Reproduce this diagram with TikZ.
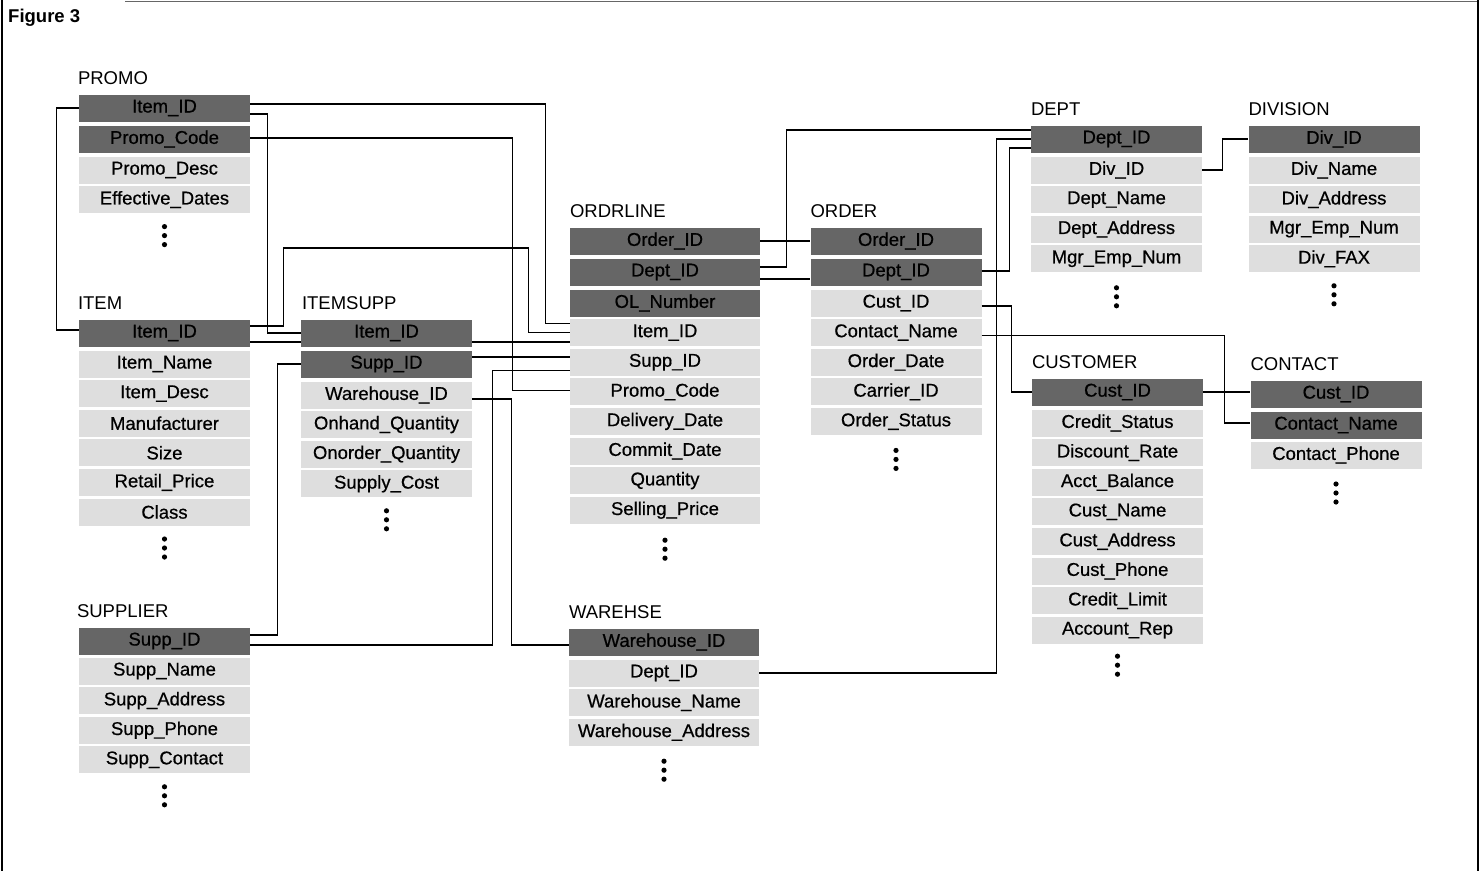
\documentclass[tikz,border=0pt]{standalone}
\usepackage{fontspec}
\setmainfont{Liberation Sans}
\newfontfamily\fieldfont[FakeBold=0.6]{Liberation Sans}
\usetikzlibrary{positioning}

\tikzset{
  field/.style={rectangle, fill=black!13, minimum width=171pt, minimum height=27pt, inner sep=0pt, font=\fieldfont\fontsize{18.5}{20}\selectfont},
  keyfield/.style={field, fill=black!60},
  tabtitle/.style={anchor=base west, inner sep=0pt, font=\fontsize{18.5}{20}\selectfont},
  moredots/.style={minimum width=6pt, minimum height=24pt, inner sep=0pt,
    path picture={\foreach \k in {-9,0,9} \fill ([yshift=\k pt]path picture bounding box.center) circle (2.6pt);}},
  link/.style={line width=1.1pt}
}

\begin{document}
\begin{tikzpicture}[x=1pt,y=1pt,node distance=29.6pt,on grid]
\useasboundingbox (0,0) rectangle (1484,-871);
\draw[line width=1.2pt] (2,0) -- (2,-871);
\draw[line width=1pt, black!60] (125,-1) -- (1478,-1);
\draw[line width=1.6pt] (1478,0) -- (1478,-871);
\node[anchor=west, inner sep=0pt, font=\bfseries\fontsize{18.5}{20}\selectfont] (figlabel) at (8,-18) {Figure 3};

% PROMO
\node[keyfield] (pro1) at (164.5,-108) {Item\_ID};
\node[keyfield] [below=31pt of pro1] (pro2) {Promo\_Code};
\node[field] [below=31pt of pro2] (pro3) {Promo\_Desc};
\node[field] [below=of pro3] (pro4) {Effective\_Dates};
\node[moredots] [below=36pt of pro4] (pro5) {};
\node[tabtitle] (promo) at ([xshift=-1pt,yshift=10pt]pro1.north west) {PROMO};

% ITEM
\node[keyfield] (itm1) at (164.5,-333) {Item\_ID};
\node[field] [below=31pt of itm1] (itm2) {Item\_Name};
\node[field] [below=of itm2] (itm3) {Item\_Desc};
\node[field] [below=of itm3] (itm4) {Manufacturer};
\node[field] [below=of itm4] (itm5) {Size};
\node[field] [below=of itm5] (itm6) {Retail\_Price};
\node[field] [below=of itm6] (itm7) {Class};
\node[moredots] [below=36pt of itm7] (itm8) {};
\node[tabtitle] (item) at ([xshift=-1pt,yshift=10pt]itm1.north west) {ITEM};

% ITEMSUPP
\node[keyfield] (isp1) at (386.5,-333) {Item\_ID};
\node[keyfield] [below=31pt of isp1] (isp2) {Supp\_ID};
\node[field] [below=31pt of isp2] (isp3) {Warehouse\_ID};
\node[field] [below=of isp3] (isp4) {Onhand\_Quantity};
\node[field] [below=of isp4] (isp5) {Onorder\_Quantity};
\node[field] [below=of isp5] (isp6) {Supply\_Cost};
\node[moredots] [below=36pt of isp6] (isp7) {};
\node[tabtitle] (itemsupp) at ([xshift=1pt,yshift=10pt]isp1.north west) {ITEMSUPP};

% SUPPLIER
\node[keyfield] (sup1) at (164.5,-641) {Supp\_ID};
\node[field] [below=30pt of sup1] (sup2) {Supp\_Name};
\node[field] [below=of sup2] (sup3) {Supp\_Address};
\node[field] [below=of sup3] (sup4) {Supp\_Phone};
\node[field] [below=of sup4] (sup5) {Supp\_Contact};
\node[moredots] [below=36pt of sup5] (sup6) {};
\node[tabtitle] (supplier) at ([xshift=-2pt,yshift=10pt]sup1.north west) {SUPPLIER};

% ORDRLINE and WAREHSE
\begin{scope}[field/.append style={minimum width=190pt}]
\node[keyfield] (oln1) at (665,-241) {Order\_ID};
\node[keyfield] [below=31pt of oln1] (oln2) {Dept\_ID};
\node[keyfield] [below=31pt of oln2] (oln3) {OL\_Number};
\node[field] [below=of oln3] (oln4) {Item\_ID};
\node[field] [below=of oln4] (oln5) {Supp\_ID};
\node[field] [below=of oln5] (oln6) {Promo\_Code};
\node[field] [below=of oln6] (oln7) {Delivery\_Date};
\node[field] [below=of oln7] (oln8) {Commit\_Date};
\node[field] [below=of oln8] (oln9) {Quantity};
\node[field] [below=of oln9] (oln10) {Selling\_Price};
\node[moredots] [below=39pt of oln10] (oln11) {};
\node[tabtitle] (ordrline) at ([xshift=0pt,yshift=10pt]oln1.north west) {ORDRLINE};

\node[keyfield] (whs1) at (664,-642) {Warehouse\_ID};
\node[field] [below=31pt of whs1] (whs2) {Dept\_ID};
\node[field] [below=of whs2] (whs3) {Warehouse\_Name};
\node[field] [below=of whs3] (whs4) {Warehouse\_Address};
\node[moredots] [below=38pt of whs4] (whs5) {};
\node[tabtitle] (warehse) at ([xshift=0pt,yshift=10pt]whs1.north west) {WAREHSE};
\end{scope}

% ORDER
\node[keyfield] (ord1) at (896,-241) {Order\_ID};
\node[keyfield] [below=31pt of ord1] (ord2) {Dept\_ID};
\node[field] [below=31pt of ord2] (ord3) {Cust\_ID};
\node[field] [below=of ord3] (ord4) {Contact\_Name};
\node[field] [below=of ord4] (ord5) {Order\_Date};
\node[field] [below=of ord5] (ord6) {Carrier\_ID};
\node[field] [below=of ord6] (ord7) {Order\_Status};
\node[moredots] [below=38pt of ord7] (ord8) {};
\node[tabtitle] (order) at ([xshift=0pt,yshift=10pt]ord1.north west) {ORDER};

% DEPT
\node[keyfield] (dep1) at (1116.5,-139) {Dept\_ID};
\node[field] [below=31pt of dep1] (dep2) {Div\_ID};
\node[field] [below=of dep2] (dep3) {Dept\_Name};
\node[field] [below=of dep3] (dep4) {Dept\_Address};
\node[field] [below=of dep4] (dep5) {Mgr\_Emp\_Num};
\node[moredots] [below=38pt of dep5] (dep6) {};
\node[tabtitle] (dept) at ([xshift=0pt,yshift=10pt]dep1.north west) {DEPT};

% DIVISION
\node[keyfield] (div1) at (1334,-139) {Div\_ID};
\node[field] [below=31pt of div1] (div2) {Div\_Name};
\node[field] [below=of div2] (div3) {Div\_Address};
\node[field] [below=of div3] (div4) {Mgr\_Emp\_Num};
\node[field] [below=of div4] (div5) {Div\_FAX};
\node[moredots] [below=36pt of div5] (div6) {};
\node[tabtitle] (division) at ([xshift=0pt,yshift=10pt]div1.north west) {DIVISION};

% CUSTOMER
\node[keyfield] (cus1) at (1117.5,-392) {Cust\_ID};
\node[field] [below=31pt of cus1] (cus2) {Credit\_Status};
\node[field] [below=of cus2] (cus3) {Discount\_Rate};
\node[field] [below=of cus3] (cus4) {Acct\_Balance};
\node[field] [below=of cus4] (cus5) {Cust\_Name};
\node[field] [below=of cus5] (cus6) {Cust\_Address};
\node[field] [below=of cus6] (cus7) {Cust\_Phone};
\node[field] [below=of cus7] (cus8) {Credit\_Limit};
\node[field] [below=of cus8] (cus9) {Account\_Rep};
\node[moredots] [below=35pt of cus9] (cus10) {};
\node[tabtitle] (customer) at ([xshift=0pt,yshift=10pt]cus1.north west) {CUSTOMER};

% CONTACT
\node[keyfield] (con1) at (1336,-394) {Cust\_ID};
\node[keyfield] [below=31pt of con1] (con2) {Contact\_Name};
\node[field] [below=30pt of con2] (con3) {Contact\_Phone};
\node[moredots] [below=38pt of con3] (con4) {};
\node[tabtitle] (contact) at ([xshift=0pt,yshift=10pt]con1.north west) {CONTACT};

% links
\draw[link] (pro1.west) -- ++(-22,0) |- ([yshift=3pt]itm1.west);
\draw[link] ([yshift=4pt]pro1.east) -- ++(295,0) |- ([yshift=9pt]oln4.west);
\draw[link] ([yshift=-6pt]pro1.east) -- ++(17,0) |- (isp1.west);
\draw[link] ([yshift=1pt]pro2.east) -- ++(262,0) |- ([yshift=1pt]oln6.west);
\draw[link] ([yshift=7pt]itm1.east) -- ++(33,0) -- ++(0,78) -- ++(245,0) |- (oln4.west);
\draw[link] ([yshift=-9pt]itm1.east) -- ([yshift=-9pt]isp1.west);
\draw[link] ([yshift=-9pt]isp1.east) -- ([yshift=-9pt]isp1.east -| oln4.west);
\draw[link] ([yshift=7pt]isp2.east) -- ([yshift=7pt]isp2.east -| oln5.west);
\draw[link] (isp2.west) -- ++(-23,0) |- ([yshift=6pt]sup1.east);
\draw[link] ([yshift=-4pt]sup1.east) -- ++(242,0) |- ([yshift=-8pt]oln5.west);
\draw[link] ([yshift=-4pt]isp3.east) -- ++(39,0) |- ([yshift=-3pt]whs1.west);
\draw[link] (oln1.east) -- (ord1.west);
\draw[link] ([yshift=5pt]oln2.east) -- ++(26,0) |- ([yshift=9pt]dep1.west);
\draw[link] ([yshift=-7pt]oln2.east) -- ([yshift=-7pt]oln2.east -| ord2.west);
\draw[link] ([yshift=1pt]ord2.east) -- ++(28,0) |- ([yshift=-9pt]dep1.west);
\draw[link] (whs2.east) -- ++(237,0) |- (dep1.west);
\draw[link] ([yshift=-3pt]ord3.east) -- ++(30,0) |- (cus1.west);
\draw[link] ([yshift=-3pt]ord4.east) -- ++(243,0) |- ([yshift=2pt]con2.west);
\draw[link] (cus1.east) -- (cus1.east -| con1.west);
\draw[link] (dep2.east) -- ++(20,0) |- (div1.west);
\end{tikzpicture}
\end{document}
